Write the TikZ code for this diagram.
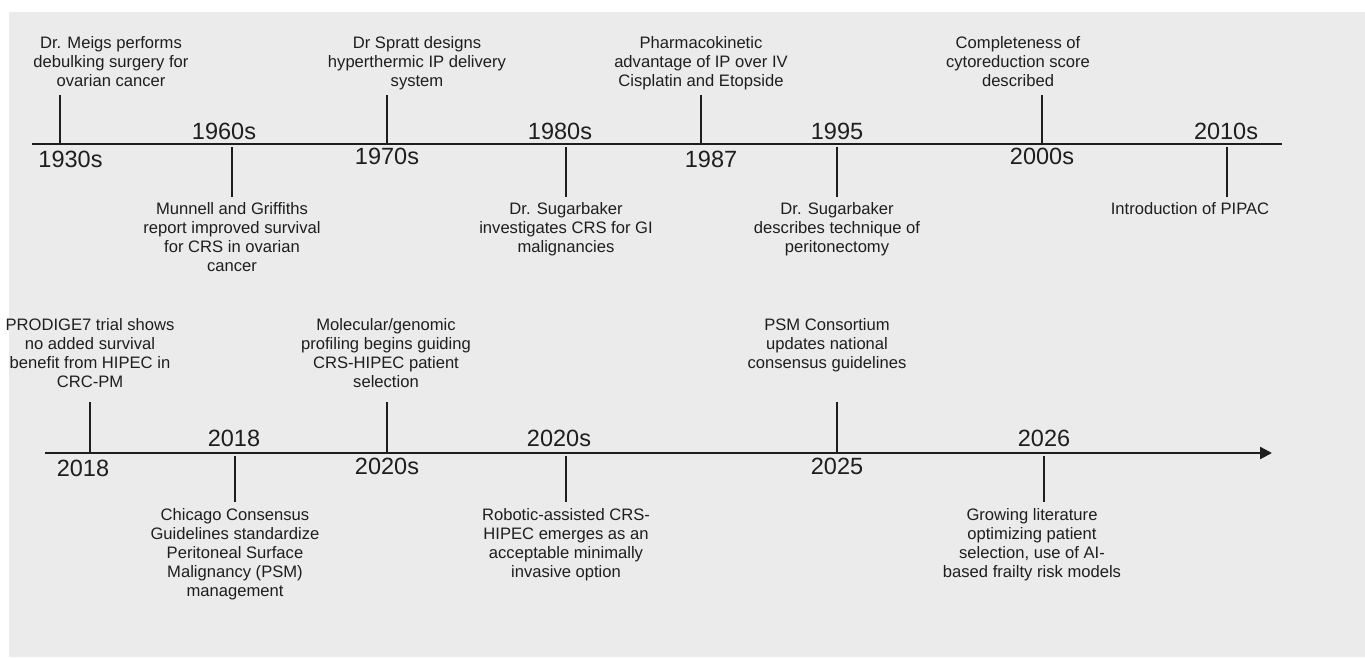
\documentclass[tikz,border=0pt]{standalone}
\usepackage{fontspec}
\setmainfont{Liberation Sans}
\usetikzlibrary{arrows.meta}

\definecolor{panelgray}{HTML}{EBEBEB}
\definecolor{inkdark}{HTML}{1E1E1E}

\tikzset{
  axisline/.style={draw=inkdark, line width=2.4pt},
  tickline/.style={draw=inkdark, line width=2.2pt},
  eventtext/.style={align=center, inner sep=0pt, text=inkdark,
    font=\fontsize{16.6}{19}\selectfont},
  yeartext/.style={anchor=base, inner sep=0pt, text=inkdark,
    font=\fontsize{23.5}{26}\selectfont}
}

\begin{document}
\begin{tikzpicture}[x=1pt, y=-1pt]
  \useasboundingbox (0,0) rectangle (1365,657);
  \fill[white] (0,0) rectangle (1365,657);
  \fill[panelgray] (9,12) rectangle (1365,657);

  % first timeline
  \coordinate (topstart) at (32,144);
  \coordinate (topend) at (1282,144);
  \draw[axisline] (topstart) -- (topend);

  \coordinate (a1930) at (60,144);   \coordinate (b1930) at (60,95);
  \coordinate (a1960) at (232,147);  \coordinate (b1960) at (232,197);
  \coordinate (a1970) at (387,144);  \coordinate (b1970) at (387,95);
  \coordinate (a1980) at (566,147);  \coordinate (b1980) at (566,197);
  \coordinate (a1987) at (701,144);  \coordinate (b1987) at (701,95);
  \coordinate (a1995) at (837,147);  \coordinate (b1995) at (837,197);
  \coordinate (a2000) at (1042,144); \coordinate (b2000) at (1042,95);
  \coordinate (a2010) at (1227,147); \coordinate (b2010) at (1227,197);
  \draw[tickline] (a1930) -- (b1930);
  \draw[tickline] (a1960) -- (b1960);
  \draw[tickline] (a1970) -- (b1970);
  \draw[tickline] (a1980) -- (b1980);
  \draw[tickline] (a1987) -- (b1987);
  \draw[tickline] (a1995) -- (b1995);
  \draw[tickline] (a2000) -- (b2000);
  \draw[tickline] (a2010) -- (b2010);

  \node[yeartext] (y1930) at (70.5,167.7) {1930s};
  \node[yeartext] (y1960) at (224,139.3) {1960s};
  \node[yeartext] (y1970) at (387,164.3) {1970s};
  \node[yeartext] (y1980) at (560,139.3) {1980s};
  \node[yeartext] (y1987) at (711,167.7) {1987};
  \node[yeartext] (y1995) at (837,139.3) {1995};
  \node[yeartext] (y2000) at (1042,164.3) {2000s};
  \node[yeartext] (y2010) at (1226,139.3) {2010s};

  \node[eventtext, anchor=north] (meigs) at (111,36)
    {Dr. Meigs performs\\debulking surgery for\\ovarian cancer};
  \node[eventtext, anchor=north] (spratt) at (417,36)
    {Dr Spratt designs\\hyperthermic IP delivery\\system};
  \node[eventtext, anchor=north] (pharma) at (701,36)
    {Pharmacokinetic\\advantage of IP over IV\\Cisplatin and Etopside};
  \node[eventtext, anchor=north] (ccscore) at (1018,36)
    {Completeness of\\cytoreduction score\\described};
  \node[eventtext, anchor=north] (munnell) at (232,202)
    {Munnell and Griffiths\\report improved survival\\for CRS in ovarian\\cancer};
  \node[eventtext, anchor=north] (sugargi) at (566,202)
    {Dr. Sugarbaker\\investigates CRS for GI\\malignancies};
  \node[eventtext, anchor=north] (sugarper) at (837,202)
    {Dr. Sugarbaker\\describes technique of\\peritonectomy};
  \node[eventtext, anchor=north] (pipac) at (1190,202)
    {Introduction of PIPAC};

  % second timeline
  \coordinate (botstart) at (45,453);
  \coordinate (botend) at (1272,453);
  \draw[axisline, -{Triangle[length=12pt, width=12pt]}] (botstart) -- (botend);

  \coordinate (a2018p) at (90,453);   \coordinate (b2018p) at (90,402);
  \coordinate (a2018c) at (235,456);  \coordinate (b2018c) at (235,502);
  \coordinate (a2020m) at (387,453);  \coordinate (b2020m) at (387,402);
  \coordinate (a2020r) at (566,456);  \coordinate (b2020r) at (566,502);
  \coordinate (a2025) at (837,453);   \coordinate (b2025) at (837,402);
  \coordinate (a2026) at (1044,456);  \coordinate (b2026) at (1044,502);
  \draw[tickline] (a2018p) -- (b2018p);
  \draw[tickline] (a2018c) -- (b2018c);
  \draw[tickline] (a2020m) -- (b2020m);
  \draw[tickline] (a2020r) -- (b2020r);
  \draw[tickline] (a2025) -- (b2025);
  \draw[tickline] (a2026) -- (b2026);

  \node[yeartext] (y2018p) at (83,476) {2018};
  \node[yeartext] (y2018c) at (234,446.7) {2018};
  \node[yeartext] (y2020m) at (387,474) {2020s};
  \node[yeartext] (y2020r) at (559,446.7) {2020s};
  \node[yeartext] (y2025) at (837,474) {2025};
  \node[yeartext] (y2026) at (1044,446.7) {2026};

  \node[eventtext, anchor=north] (prodige) at (90,318)
    {PRODIGE7 trial shows\\no added survival\\benefit from HIPEC in\\CRC-PM};
  \node[eventtext, anchor=north] (molecular) at (386,318)
    {Molecular/genomic\\profiling begins guiding\\CRS-HIPEC patient\\selection};
  \node[eventtext, anchor=north] (psm) at (827,318)
    {PSM Consortium\\updates national\\consensus guidelines};
  \node[eventtext, anchor=north] (chicago) at (235,508)
    {Chicago Consensus\\Guidelines standardize\\Peritoneal Surface\\Malignancy (PSM)\\management};
  \node[eventtext, anchor=north] (robotic) at (566,508)
    {Robotic-assisted CRS-\\HIPEC emerges as an\\acceptable minimally\\invasive option};
  \node[eventtext, anchor=north] (growing) at (1032,508)
    {Growing literature\\optimizing patient\\selection, use of AI-\\based frailty risk models};
\end{tikzpicture}
\end{document}
